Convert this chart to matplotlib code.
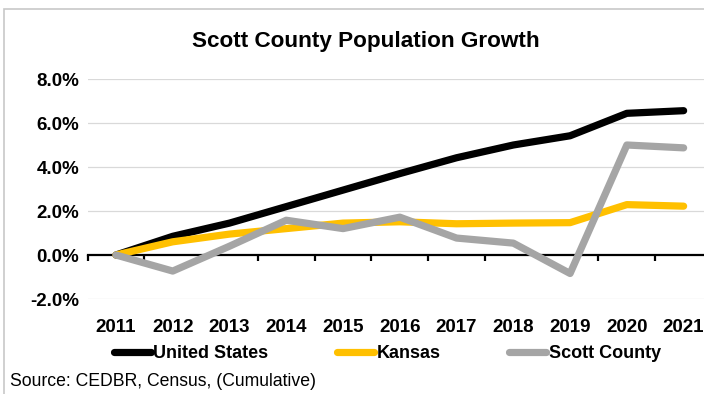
import matplotlib.pyplot as plt
from matplotlib.patches import Rectangle
from matplotlib.transforms import blended_transform_factory

plt.rcParams['font.family'] = ['Liberation Sans', 'DejaVu Sans']

# data (cumulative % growth since 2011)
years = ['2011', '2012', '2013', '2014', '2015', '2016', '2017', '2018', '2019', '2020', '2021']
united_states = [0.0, 0.85, 1.45, 2.2, 2.95, 3.7, 4.42, 5.0, 5.42, 6.44, 6.56]
kansas = [0.0, 0.6, 0.95, 1.2, 1.45, 1.51, 1.42, 1.45, 1.47, 2.29, 2.22]
scott_county = [0.0, -0.73, 0.4, 1.58, 1.2, 1.72, 0.77, 0.54, -0.84, 5.0, 4.87]
yticks = [-2, 0, 2, 4, 6, 8]

series = [('United States', united_states, '#000000'),
          ('Kansas', kansas, '#FFC000'),
          ('Scott County', scott_county, '#A5A5A5')]

fig = plt.figure(figsize=(7.04, 3.94), dpi=100)
fig.patches.append(Rectangle((4 / 704, -0.1), 1.2, 1 - 8.5 / 394 + 0.1, transform=fig.transFigure,
                             fill=False, edgecolor='#c8c8c8', linewidth=1.2))

ax = fig.add_axes([87.6 / 704, 1 - 299 / 394, (712 - 87.6) / 704, 220 / 394])
x = list(range(len(years)))
for name, vals, col in series:
    ax.plot(x, vals, color=col, linewidth=5.2, solid_capstyle='round',
            solid_joinstyle='round', label=name, clip_on=False, zorder=3)

ax.set_xlim(-0.5, len(years) - 0.5)
ax.set_ylim(-2, 8)
for yv in yticks:
    if yv != 0:
        ax.axhline(yv, color='#d9d9d9', linewidth=0.9, zorder=1)

for s in ['top', 'right', 'left']:
    ax.spines[s].set_visible(False)
ax.spines['bottom'].set_position(('data', 0))
ax.spines['bottom'].set_linewidth(1.6)
ax.spines['bottom'].set_zorder(2)
ax.set_xticks([i - 0.5 for i in range(len(years) + 1)])
ax.set_xticklabels([])
ax.tick_params(axis='x', direction='out', length=4, width=1.6, color='black')
ax.set_yticks(yticks)
ax.set_yticklabels([f'{v:.1f}%' for v in yticks], fontsize=13.5, fontweight='bold')
ax.tick_params(axis='y', length=0, pad=6)

tr = blended_transform_factory(ax.transData, fig.transFigure)
for i, yr in enumerate(years):
    ax.text(i, 1 - 328 / 394, yr, transform=tr, ha='center', va='center',
            fontsize=13.5, fontweight='bold')

fig.text(365.5 / 704, 1 - 42 / 394, 'Scott County Population Growth', ha='center', va='center',
         fontsize=16.2, fontweight='bold')

fig.legend(loc='center', bbox_to_anchor=(387.5 / 704, 1 - 354 / 394), ncol=3, frameon=False,
           prop={'size': 13, 'weight': 'bold'}, handlelength=2.05, handletextpad=0.15,
           columnspacing=3.8, borderpad=0, borderaxespad=0)

fig.text(10 / 704, 1 - 381 / 394, 'Source: CEDBR, Census, (Cumulative)', ha='left', va='center',
         fontsize=12.7)

fig.savefig('out.png', dpi=100)
